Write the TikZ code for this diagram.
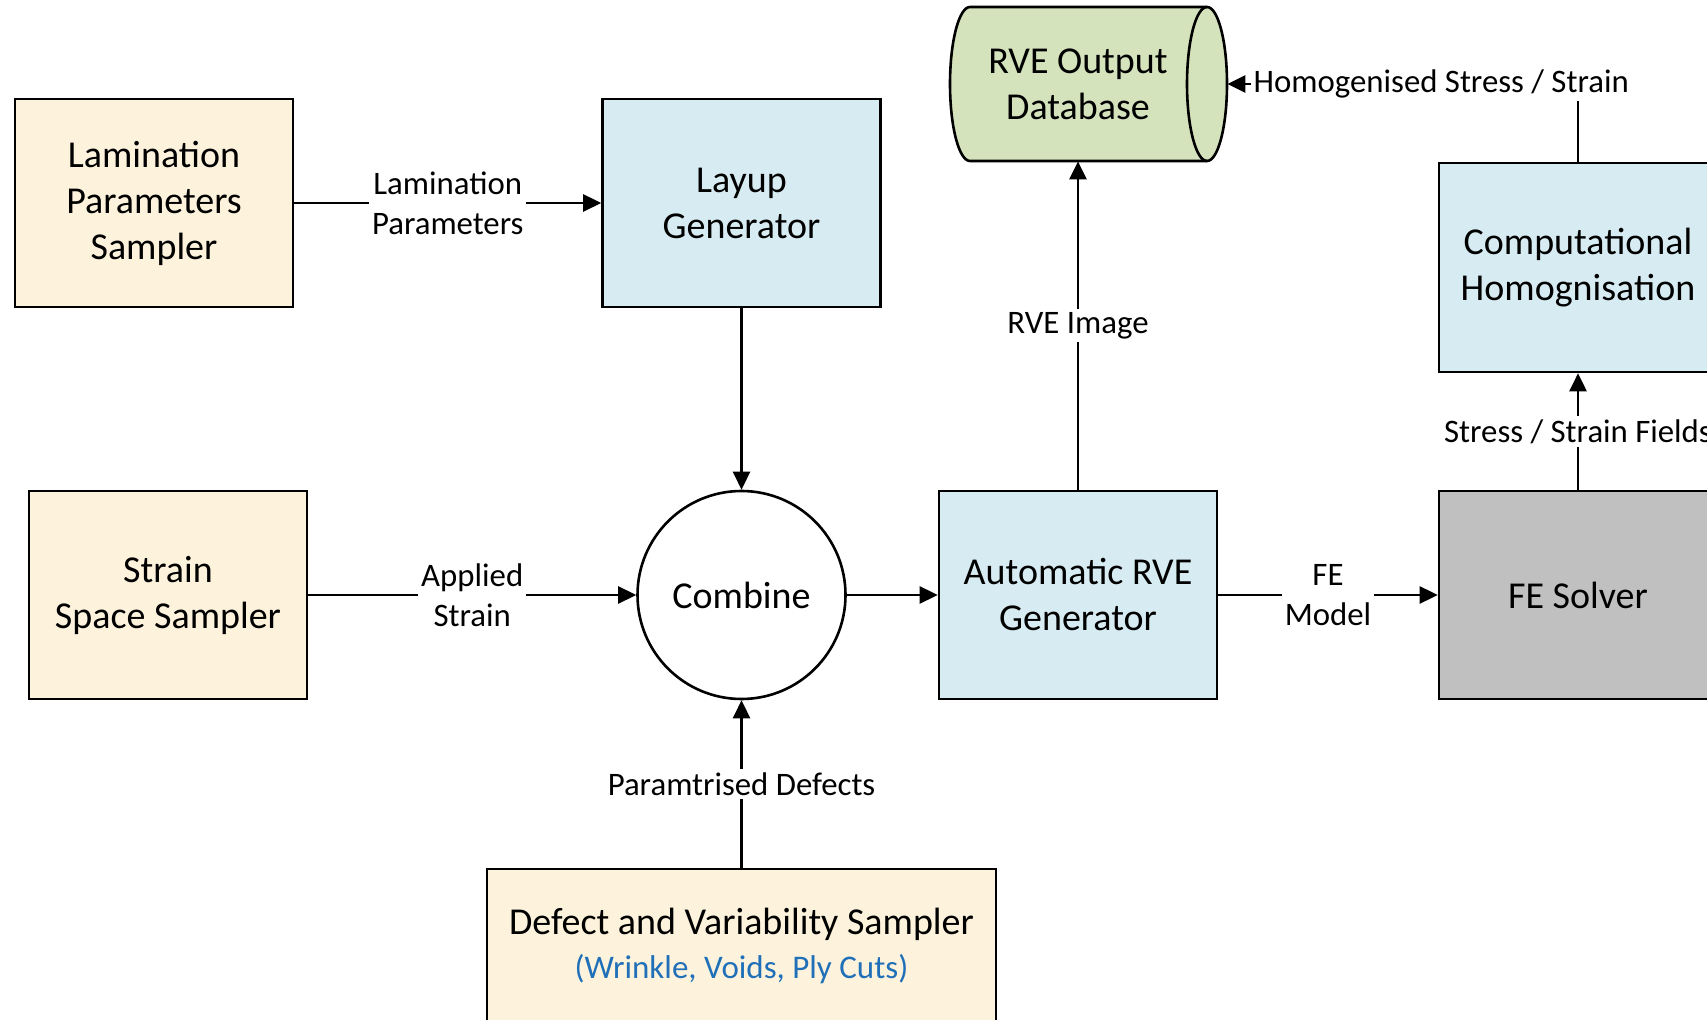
\documentclass[tikz,border=0pt]{standalone}
\usepackage{fontspec}
\setmainfont{Carlito}
\usetikzlibrary{arrows.meta}
\definecolor{creamc}{HTML}{FDF3DC}
\definecolor{bluec}{HTML}{D7ECF2}
\definecolor{greenc}{HTML}{D5E3BD}
\definecolor{grayc}{HTML}{C0C0C0}
\definecolor{linkblue}{HTML}{1F70B8}
\begin{document}
\begin{tikzpicture}[x=0.5pt,y=-0.5pt,
  box/.style={draw, line width=1.3pt, minimum width=139pt, minimum height=104pt,
    inner sep=0pt, align=center, font=\fontsize{19}{23}\selectfont},
  cream/.style={box, fill=creamc},
  bluebox/.style={box, fill=bluec},
  graybox/.style={box, fill=grayc},
  arr/.style={line width=1.3pt, -{Triangle[length=9pt,width=8.5pt]}},
  elabel/.style={fill=white, inner sep=1.5pt, align=center,
    font=\fontsize{16.4}{20}\selectfont},
]
\useasboundingbox (0,0) rectangle (1707,1020);
\clip (0,0) rectangle (1707,1020);
\fill[white] (0,0) rectangle (1707,1020);

% nodes
\node[cream] (lam) at (154,203) {Lamination\\Parameters\\Sampler};
\node[bluebox] (layup) at (741.5,203) {Layup\\Generator};
\node[cream] (strain) at (168,595) {Strain\\Space Sampler};
\node[draw, circle, line width=1.3pt, fill=white, minimum size=104pt, inner sep=0pt,
  font=\fontsize{19}{23}\selectfont] (comb) at (741.5,595) {Combine};
\node[bluebox] (auto) at (1078,595) {Automatic RVE\\Generator};
\node[graybox] (fe) at (1578,595) {FE Solver};
\node[bluebox, minimum height=104.5pt] (comp) at (1578,267.5) {Computational\\Homognisation};
\node[cream, minimum width=254.5pt, minimum height=77pt] (defect) at (741.5,946)
  {Defect and Variability Sampler\\[-1pt]{\fontsize{16.5}{20}\selectfont\color{linkblue}(Wrinkle, Voids, Ply Cuts)}};

% database cylinder
\fill[greenc] (970,7) -- (1207,7) arc[start angle=90, end angle=-90, x radius=10pt, y radius=38.5pt]
  -- (970,161) arc[start angle=270, end angle=90, x radius=10pt, y radius=38.5pt] -- cycle;
\draw[line width=1.3pt, line join=round] (970,7) -- (1207,7) arc[start angle=90, end angle=-90, x radius=10pt, y radius=38.5pt]
  -- (970,161) arc[start angle=270, end angle=90, x radius=10pt, y radius=38.5pt] -- cycle;
\draw[line width=1.3pt] (1207,7) arc[start angle=90, end angle=270, x radius=10pt, y radius=38.5pt];
\node[minimum width=149pt, minimum height=77pt, inner sep=0pt, align=center,
  font=\fontsize{19}{23}\selectfont] (db) at (1078,84) {RVE Output\\Database};

% connectors
\draw[arr] (lam) -- node[elabel]{Lamination\\Parameters} (layup);
\draw[arr] (layup) -- (comb);
\draw[arr] (strain) -- node[elabel]{Applied\\Strain} (comb);
\draw[arr] (comb) -- (auto);
\draw[arr] (auto) -- node[elabel]{FE\\Model} (fe);
\draw[arr] (auto.north) -- node[elabel]{RVE Image} (db.south);
\draw[arr] (defect.north) -- node[elabel]{Paramtrised Defects} (comb);
\draw[arr] (fe.north) -- node[elabel]{Stress / Strain Fields} (comp.south);
\draw[arr] (comp.north) |- node[elabel, pos=0.695]{Homogenised Stress / Strain} (db.east);
\end{tikzpicture}
\end{document}
